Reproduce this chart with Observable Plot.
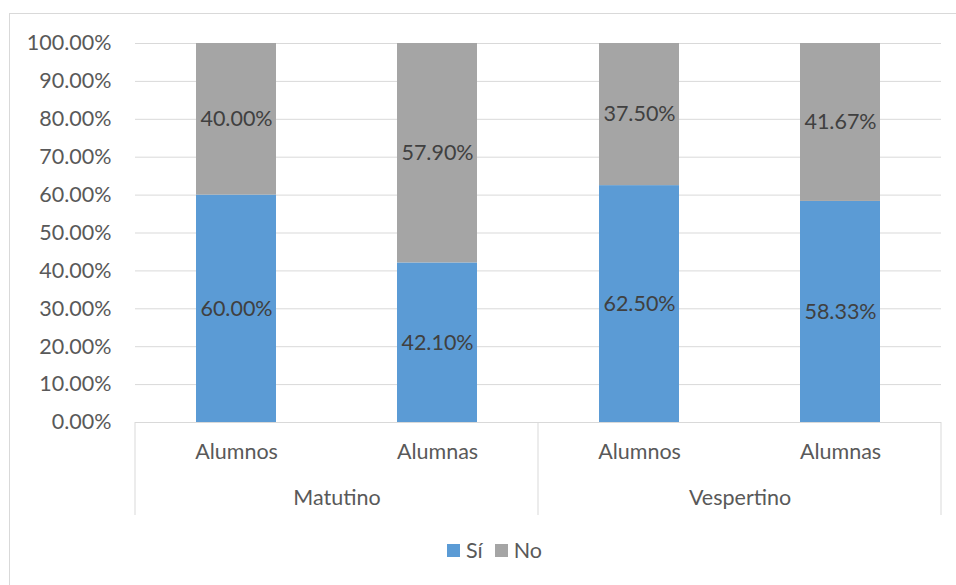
<!DOCTYPE html>
<html><head><meta charset="utf-8">
<script src="https://cdn.jsdelivr.net/npm/d3@7"></script>
<script src="https://cdn.jsdelivr.net/npm/@observablehq/plot@0.6"></script>
<style>
body{margin:0;background:#fff;font-family:Lato,"Open Sans",sans-serif;}
#frame{position:absolute;left:9px;top:13px;width:980px;height:600px;border:1px solid #d9d9d9;box-sizing:border-box}
#chart{position:absolute;left:0;top:0}
#legend{position:absolute;top:537px;left:447px;display:flex;align-items:center;font-size:21.5px;color:#595959;}
#legend .item{display:flex;align-items:center;margin-right:12px}
#legend .sw{width:13px;height:13px;margin-right:6px}
</style>
</head><body>
<div id="frame"></div>
<div id="chart"></div>
<div id="legend"></div>
<script>
const shifts = ["Matutino", "Matutino", "Vespertino", "Vespertino"];
const groups = ["Alumnos", "Alumnas", "Alumnos", "Alumnas"];
const si = [60.00, 42.10, 62.50, 58.33];
const no = [40.00, 57.90, 37.50, 41.67];
const answers = ["Sí", "No"];
const colors = ["#5B9BD5", "#A5A5A5"];
const yTicks = [0, 10, 20, 30, 40, 50, 60, 70, 80, 90, 100];

const data = shifts.flatMap((s, i) => [
  {shift: s, group: groups[i], answer: answers[0], value: si[i]},
  {shift: s, group: groups[i], answer: answers[1], value: no[i]}
]);

const fmt = d => d.toFixed(2) + "%";

const plot = Plot.plot({
  width: 956, height: 520,
  marginLeft: 134, marginRight: 15, marginTop: 43, marginBottom: 98,
  style: {fontFamily: "Lato, 'Open Sans', sans-serif", fontSize: "21.5px", color: "#595959", background: "transparent"},
  fx: {domain: ["Matutino", "Vespertino"], padding: 0, label: null},
  x: {domain: ["Alumnos", "Alumnas"], paddingInner: 0.6, paddingOuter: 0.3, label: null},
  y: {domain: [0, 100], label: null},
  color: {domain: answers, range: colors},
  marks: [
    Plot.gridY(yTicks, {stroke: "#d9d9d9", strokeOpacity: 1, strokeWidth: 1}),
    Plot.axisY(yTicks, {tickSize: 0, tickPadding: 24, tickFormat: fmt, label: null, fill: "#595959"}),
    Plot.barY(data, {fx: "shift", x: "group", y: "value", fill: "answer", z: "answer", order: answers}),
    Plot.text(data, Plot.stackY({fx: "shift", x: "group", y: "value", z: "answer", order: answers, text: d => fmt(d.value), fill: "#404040"})),
    Plot.axisX({tickSize: 0, tickPadding: 21, label: null, fill: "#595959"}),
    Plot.axisFx({anchor: "bottom", tickSize: 0, tickPadding: 67, label: null, fill: "#595959"})
  ]
});
document.getElementById("chart").appendChild(plot);

// category separators, from the fx scale
const fxs = plot.scale("fx");
const ys = plot.scale("y");
const svg = d3.select(plot);
const y0 = ys.apply(0);
const edges = fxs.domain.map(d => fxs.apply(d));
edges.push(fxs.apply(fxs.domain[fxs.domain.length - 1]) + fxs.bandwidth);
svg.append("g").selectAll("line").data(edges).join("line")
  .attr("x1", d => d).attr("x2", d => d)
  .attr("y1", y0).attr("y2", y0 + 93)
  .attr("stroke", "#d9d9d9").attr("stroke-width", 1);

const legend = d3.select("#legend");
answers.forEach((a, i) => {
  const it = legend.append("div").attr("class", "item");
  it.append("div").attr("class", "sw").style("background", colors[i]);
  it.append("span").text(a);
});
</script>
</body></html>
